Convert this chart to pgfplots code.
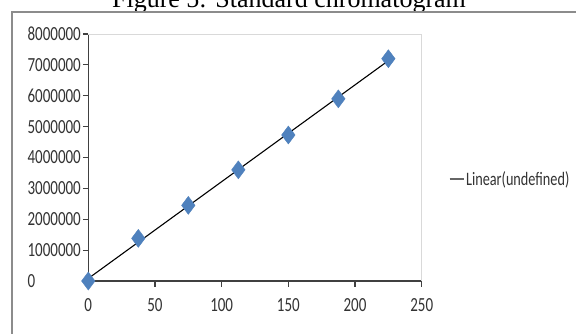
\documentclass[border=0pt]{standalone}
\usepackage{pgfplots}
\pgfplotsset{compat=1.18}
\usepackage{fontspec}
\setmainfont{Liberation Serif}
\newfontfamily\calibri[FakeStretch=0.75]{Carlito}
\definecolor{mkblue}{HTML}{4F81BD}
\definecolor{axgray}{HTML}{404040}
\definecolor{framegray}{HTML}{8C8C8C}
\definecolor{boxgray}{HTML}{D9D9D9}
\begin{document}
\begin{tikzpicture}[x=1pt,y=1pt]
\clip (0,0) rectangle (576,333);
\fill[white] (0,0) rectangle (576,333);
\node[anchor=base, font=\fontsize{26}{26}\selectfont, inner sep=0] at (289,326) {Figure 5: Standard chromatogram};
\draw[framegray, line width=1.5pt] (12,-5) -- (12,321) -- (590,321);
\begin{axis}[
  at={(88.3pt,52pt)}, anchor=south west,
  scale only axis, width=333.4pt, height=247pt,
  xmin=0, xmax=250, ymin=0, ymax=8000000,
  axis x line*=bottom, axis y line*=left,
  axis line style={axgray, line width=1.3pt},
  xtick={0,50,...,250}, xticklabels={0,50,100,150,200,250},
  ytick={0,1000000,...,8000000},
  yticklabels={0,1000000,2000000,3000000,4000000,5000000,6000000,7000000,8000000},
  scaled y ticks=false,
  tick align=outside, major tick length=5.5pt,
  tick style={axgray, line width=1.1pt},
  ticklabel style={font=\calibri\fontsize{20}{20}\selectfont, text=black!80},
  xticklabel style={yshift=-8pt},
  yticklabel style={text width=53pt, align=left, inner sep=2pt},
  clip=false,
  legend style={at={(1.08,0.413)}, anchor=west, draw=none, fill=none, inner sep=0pt,
    font=\calibri\fontsize{19}{19}\selectfont, nodes={inner sep=1.5pt, text=black!80}},
  legend cell align=left,
]
\draw[boxgray, line width=1pt] (axis cs:0,8000000) -- (axis cs:250,8000000) -- (axis cs:250,0);
\addplot[only marks, mark=diamond*, mark size=9pt, mark options={fill=mkblue, draw=mkblue}, forget plot]
  coordinates {(0,0) (37.5,1380000) (75,2450000) (112.5,3600000) (150,4730000) (187.5,5900000) (225,7200000)};
\addplot[black, line width=1.1pt, legend image code/.code={\draw[axgray!80, line width=2pt] (0pt,0pt) -- (14pt,0pt);}]
  coordinates {(0,82000) (225,7136000)};
\addlegendentry{Linear(undefined)}
\end{axis}
\end{tikzpicture}
\end{document}
